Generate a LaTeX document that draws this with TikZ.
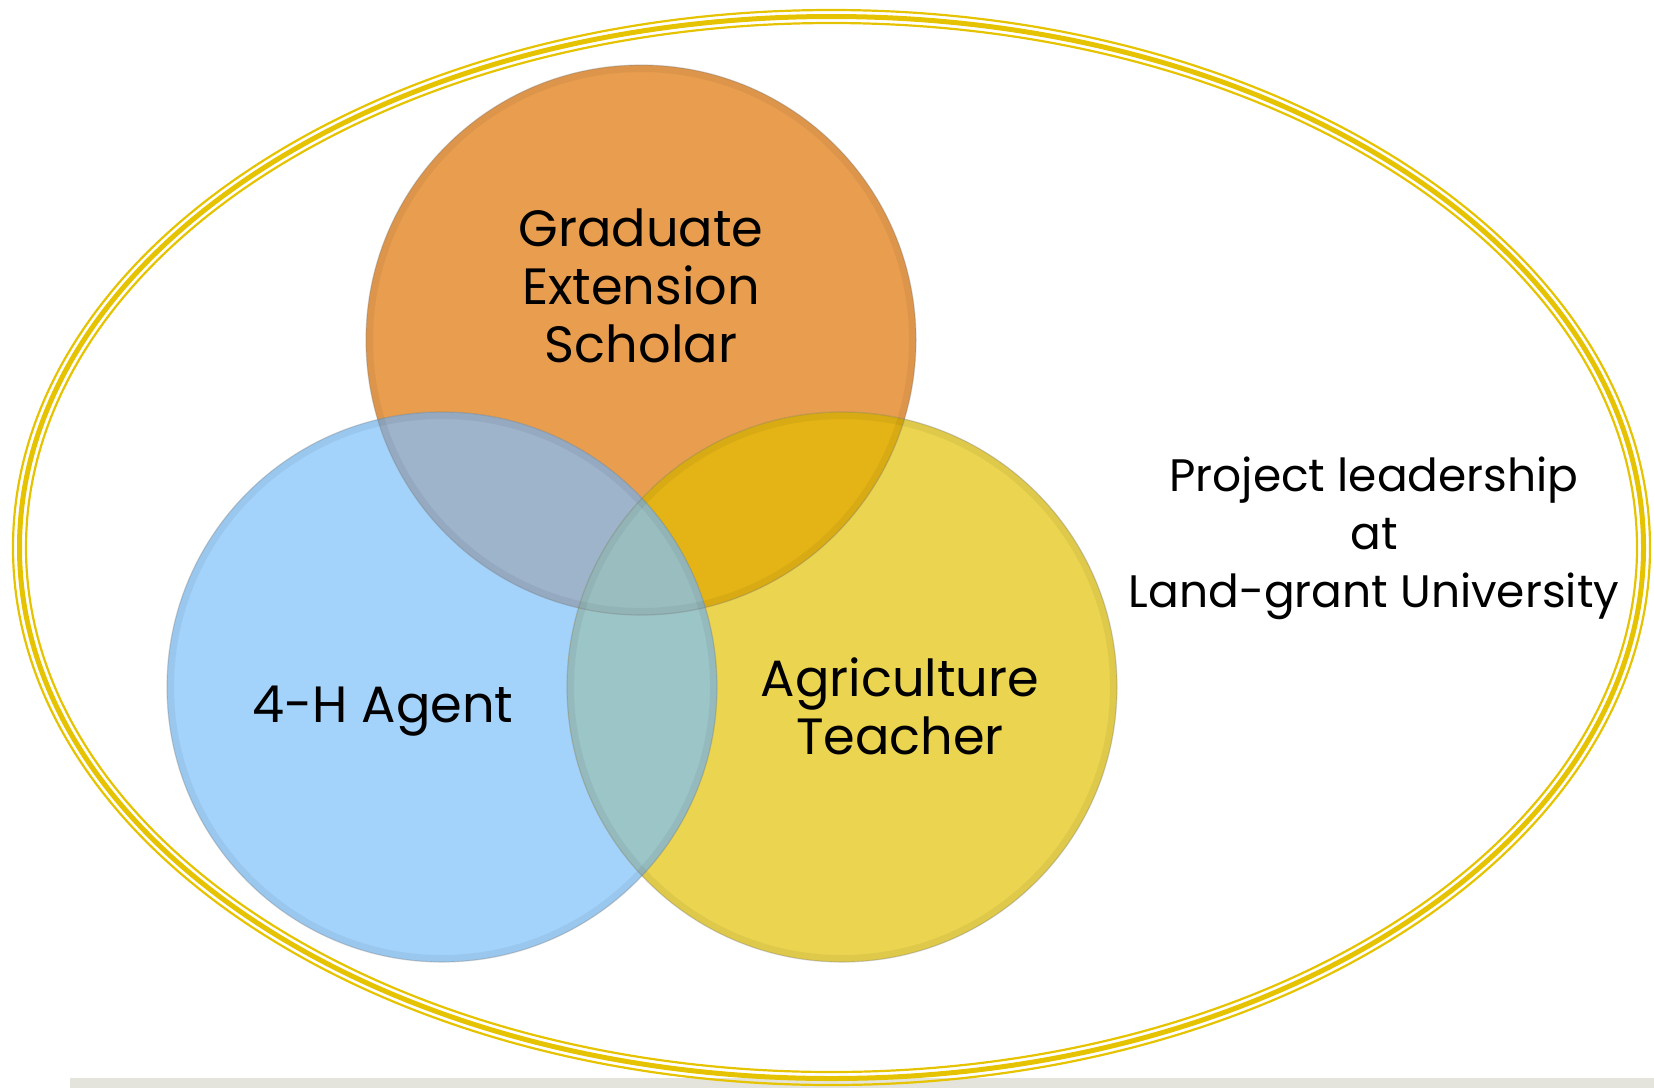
\documentclass[tikz,border=0pt]{standalone}
\usepackage{fontspec}
\setmainfont{Poppins}
\definecolor{cgold}{RGB}{230,195,0}
\definecolor{cbar}{RGB}{228,228,220}
\definecolor{cO}{RGB}{232,158,78}
\definecolor{cB}{RGB}{163,210,250}
\definecolor{cY}{RGB}{234,212,80}
\definecolor{cOB}{RGB}{158,180,203}
\definecolor{cOY}{RGB}{228,180,22}
\definecolor{cBY}{RGB}{156,197,200}
\definecolor{cOBY}{RGB}{154,190,192}
\tikzset{
  ring/.style={draw=cgold},
  lbl/.style={align=center, text=black, inner sep=0pt, font=\fontsize{51}{58}\selectfont},
  lblsmall/.style={align=center, text=black, inner sep=0pt, font=\fontsize{45.5}{58}\selectfont},
  edgeline/.style={draw=black!55, draw opacity=0.3, line width=1.2pt},
  innershade/.style={draw=black, draw opacity=0.05, line width=14pt},
}
\begin{document}
\begin{tikzpicture}[x=1pt,y=-1pt]
\useasboundingbox (0,0) rectangle (1654,1088);
% bottom bar
\fill[cbar] (70,1078) rectangle (1654,1088);
% outer ring (triple line)
\coordinate (ec) at (831.5,547.5);
\draw[ring, line width=5pt] (ec) ellipse [x radius=812, y radius=531];
\draw[ring, line width=2.2pt] (ec) ellipse [x radius=818.5, y radius=537.5];
\draw[ring, line width=2.2pt] (ec) ellipse [x radius=805.5, y radius=524.5];
% circle centres
\coordinate (co) at (641,340);
\coordinate (cb) at (442,687);
\coordinate (cy) at (842,687);
% base fills
\fill[cO] (co) circle [radius=275];
\fill[cB] (cb) circle [radius=275];
\fill[cY] (cy) circle [radius=275];
% overlaps
\begin{scope}
  \clip (co) circle [radius=275];
  \fill[cOB] (cb) circle [radius=275];
  \fill[cOY] (cy) circle [radius=275];
\end{scope}
\begin{scope}
  \clip (cb) circle [radius=275];
  \fill[cBY] (cy) circle [radius=275];
\end{scope}
\begin{scope}
  \clip (co) circle [radius=275];
  \clip (cb) circle [radius=275];
  \fill[cOBY] (cy) circle [radius=275];
\end{scope}
% soft inner edges
\begin{scope}
  \clip (co) circle [radius=275];
  \draw[innershade] (co) circle [radius=275];
\end{scope}
\begin{scope}
  \clip (cy) circle [radius=275];
  \draw[innershade] (cy) circle [radius=275];
\end{scope}
\begin{scope}
  \clip (cb) circle [radius=275];
  \draw[innershade] (cb) circle [radius=275];
\end{scope}
% named circle nodes with outlines
\node[circle, minimum size=550pt, inner sep=0pt, edgeline] (orange) at (co) {};
\node[circle, minimum size=550pt, inner sep=0pt, edgeline] (yellow) at (cy) {};
\node[circle, minimum size=550pt, inner sep=0pt, edgeline] (blue) at (cb) {};
% labels
\node[lbl] (ges) at (641,286) {Graduate\\Extension\\Scholar};
\node[lbl] (agent) at (383,711) {4-H Agent};
\node[lbl] (teacher) at (900,706) {Agriculture\\Teacher};
\node[lblsmall] (proj) at (1374,538) {Project leadership\\at\\Land-grant University};
\end{tikzpicture}
\end{document}
